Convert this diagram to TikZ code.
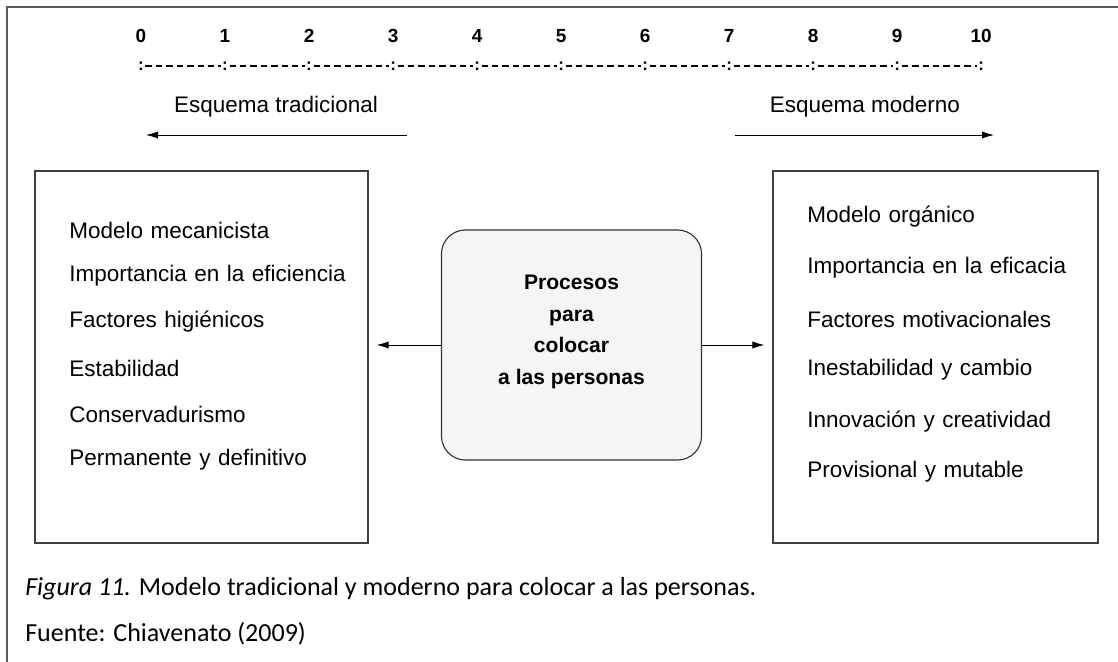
\documentclass[tikz,border=0pt]{standalone}
\usepackage{fontspec}
\setmainfont{Liberation Sans}
\newfontfamily\capfont{Carlito}
\usetikzlibrary{positioning,arrows.meta}
\definecolor{framegray}{gray}{0.35}
\definecolor{boxfill}{gray}{0.96}

\begin{document}
\begin{tikzpicture}[x=0.025cm, y=-0.025cm, node distance={2.1cm},
	num/.style = {font=\bfseries\fontsize{13.5}{16}\selectfont, inner sep=1pt},
	tick/.style = {font=\bfseries\fontsize{12}{14}\selectfont, inner sep=1pt},
	panel/.style = {draw=black!75, line width=0.8pt},
	item/.style = {font=\fontsize{16}{19}\selectfont, text width=8cm, align=left, inner sep=0pt},
	head/.style = {font=\fontsize{16}{19}\selectfont},
	proc/.style = {draw=black!80, line width=0.8pt, fill=boxfill, rounded corners=0.6cm,
		minimum width=6.5cm, minimum height=5.75cm},
	proctext/.style = {align=center, font=\bfseries\fontsize{15}{22.5}\selectfont},
	arr/.style = {-{Latex[length=0.3cm, width=0.18cm]}, line width=0.6pt}] 
	\useasboundingbox (0,0) rectangle (1118,662);
	\draw[framegray, line width=1.4pt] (1118,7) -- (7,7) -- (7,662);
	% scale 0 .. 10
	\node[num] (n0) at (141,36) {0}; 
	\node[num] (n1) [right of=n0] {1};
	\node[num] (n2) [right of=n1] {2};
	\node[num] (n3) [right of=n2] {3};
	\node[num] (n4) [right of=n3] {4};
	\node[num] (n5) [right of=n4] {5};
	\node[num] (n6) [right of=n5] {6};
	\node[num] (n7) [right of=n6] {7};
	\node[num] (n8) [right of=n7] {8};
	\node[num] (n9) [right of=n8] {9};
	\node[num] (n10) [right of=n9] {10};
	\node[tick] (c0) at (141,66) {:}; 
	\node[tick] (c1) [right of=c0] {:};
	\node[tick] (c2) [right of=c1] {:};
	\node[tick] (c3) [right of=c2] {:};
	\node[tick] (c4) [right of=c3] {:};
	\node[tick] (c5) [right of=c4] {:};
	\node[tick] (c6) [right of=c5] {:};
	\node[tick] (c7) [right of=c6] {:};
	\node[tick] (c8) [right of=c7] {:};
	\node[tick] (c9) [right of=c8] {:};
	\node[tick] (c10) [right of=c9] {:};
	\draw[dash pattern=on 0.16cm off 0.1cm, line width=0.8pt] (c0) -- (c1) -- (c2) -- (c3) -- (c4) -- (c5)
		-- (c6) -- (c7) -- (c8) -- (c9) -- (c10);
	% schemes
	\node[head] (trad) at (276,107) {Esquema tradicional};
	\node[head] (mod) at (865,107) {Esquema moderno};
	\coordinate (ta) at (407,135);
	\coordinate (tb) at (146,135);
	\coordinate (ma) at (735,135);
	\coordinate (mb) at (994,135);
	\draw[arr] (ta) -- (tb);
	\draw[arr] (ma) -- (mb);
	% boxes
	\node[panel, minimum width=8.325cm, minimum height=9.3cm] (left) at (201.5,357) {};
	\node[panel, minimum width=8.125cm, minimum height=9.3cm] (right) at (935.5,357) {};
	\node[proc] (proc) at (571.5,345) {};
	\node[proctext] (ptxt) at (571.5,332) {Procesos\\para\\colocar\\a las personas};
	\draw[arr, shorten >=0.2cm] (proc.west) -- (proc.west -| left.east);
	\draw[arr, shorten >=0.2cm] (proc.east) -- (proc.east -| right.west);
	% traditional list
	\node[item, anchor=west] (l1) at (69,230) {Modelo mecanicista};
	\node[item] (l2) [below of=l1, node distance=1.15cm] {Importancia en la eficiencia};
	\node[item] (l3) [below of=l2, node distance=1.15cm] {Factores higiénicos};
	\node[item] (l4) [below of=l3, node distance=1.15cm] {Estabilidad};
	\node[item] (l5) [below of=l4, node distance=1.15cm] {Conservadurismo};
	\node[item] (l6) [below of=l5, node distance=1.15cm] {Permanente y definitivo};
	% modern list
	\node[item, anchor=west] (r1) at (807,217) {Modelo orgánico};
	\node[item] (r2) [below of=r1, node distance=1.275cm] {Importancia en la eficacia};
	\node[item] (r3) [below of=r2, node distance=1.275cm] {Factores motivacionales};
	\node[item] (r4) [below of=r3, node distance=1.275cm] {Inestabilidad y cambio};
	\node[item] (r5) [below of=r4, node distance=1.275cm] {Innovación y creatividad};
	\node[item] (r6) [below of=r5, node distance=1.275cm] {Provisional y mutable};
	% caption
	\node[anchor=west, inner sep=0pt, font=\capfont\fontsize{18.5}{22}\selectfont] (cap) at (25,589)
		{\textit{Figura 11.} Modelo tradicional y moderno para colocar a las personas.};
	\node[anchor=west, inner sep=0pt, font=\capfont\fontsize{18.5}{22}\selectfont] (src) at (25,634)
		{Fuente: Chiavenato (2009)};
\end{tikzpicture}
\end{document}
